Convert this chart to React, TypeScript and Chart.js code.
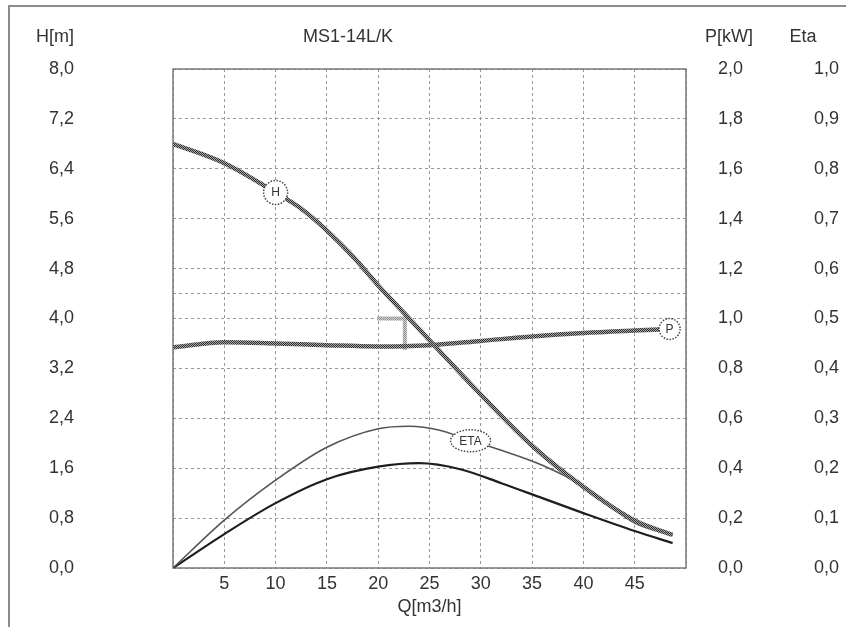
import React, { useEffect, useRef } from 'react';
import { Chart, registerables } from 'chart.js';

Chart.register(...registerables);

// ---- texts ----
const chartTitle = 'MS1-14L/K';
const xTitle = 'Q[m3/h]';
const hTitle = 'H[m]';
const pTitle = 'P[kW]';
const etaTitle = 'Eta';

// ---- axes ----
const qMin = 0;
const qMax = 50;
const qStep = 5;
const hMax = 8;
const hStep = 0.8;
const pMax = 2;
const pStep = 0.2;
const etaMax = 1;
const etaStep = 0.1;
const extraHGrid = [4.4];

// ---- head curve H [m] ----
const qHead = [0, 5, 10, 12.5, 15, 17.5, 20, 22.5, 25, 30, 35, 40, 45, 48.7];
const headH = [6.8, 6.49, 6.02, 5.76, 5.41, 5.0, 4.53, 4.09, 3.65, 2.78, 1.96, 1.3, 0.76, 0.53];

// ---- power curve P [kW] ----
const qPower = [0, 5, 10, 15, 20, 25, 30, 35, 40, 45, 48.4];
const powerKW = [0.885, 0.905, 0.9, 0.893, 0.888, 0.893, 0.91, 0.928, 0.942, 0.952, 0.958];

// ---- efficiency curve ETA ----
const qEta = [0, 5, 10, 15, 20, 23, 26, 29, 32, 36, 40, 45, 48.7];
const etaPump = [0, 0.096, 0.176, 0.242, 0.279, 0.284, 0.276, 0.255, 0.236, 0.206, 0.164, 0.09, 0.065];

// ---- overall efficiency curve ----
const qEtaTotal = [0, 5, 10, 15, 20, 24, 28, 32, 36, 40, 45, 48.7];
const etaTotal = [0, 0.068, 0.13, 0.178, 0.203, 0.21, 0.198, 0.17, 0.14, 0.11, 0.074, 0.05];

// ---- duty point bracket (H units) ----
const qDuty = [19.9, 22.6, 22.6];
const hDuty = [4.0, 4.0, 3.5];

// ---- curve labels: dataset index, point index ----
const curveLabels = [
  { text: 'H', dataset: 0, point: 2, rx: 12, ry: 12 },
  { text: 'P', dataset: 1, point: 10, rx: 10.5, ry: 10.5 },
  { text: 'ETA', dataset: 2, point: 7, rx: 20, ry: 11 },
];

const FONT = "'Liberation Sans', Arial, sans-serif";
const TEXT = '#333';
const FS = 18;

const fmt = (v: number) => v.toFixed(1).replace('.', ',');
const pts = (xs: number[], ys: number[]) => xs.map((x, i) => ({ x, y: ys[i] }));

function makeHatch(ctx: CanvasRenderingContext2D, dark: string, light: string) {
  const c = document.createElement('canvas');
  c.width = 2;
  c.height = 2;
  const g = c.getContext('2d')!;
  g.fillStyle = light;
  g.fillRect(0, 0, 2, 2);
  g.fillStyle = dark;
  g.fillRect(0, 0, 1, 1);
  g.fillRect(1, 1, 1, 1);
  return ctx.createPattern(c, 'repeat')!;
}

const framePlugin = {
  id: 'frame',
  beforeDraw(chart: any) {
    const { ctx, width, height } = chart;
    ctx.save();
    ctx.fillStyle = '#fff';
    ctx.fillRect(0, 0, width, height);
    ctx.strokeStyle = '#8c8c8c';
    ctx.lineWidth = 2;
    ctx.beginPath();
    ctx.moveTo(9, height);
    ctx.lineTo(9, 6);
    ctx.lineTo(width, 6);
    ctx.stroke();
    // headings
    ctx.fillStyle = TEXT;
    ctx.font = `${FS}px ${FONT}`;
    ctx.textAlign = 'center';
    ctx.textBaseline = 'middle';
    const heads = [
      { t: hTitle, x: 55 },
      { t: chartTitle, x: 348 },
      { t: pTitle, x: 729 },
      { t: etaTitle, x: 803 },
    ];
    heads.forEach((h) => ctx.fillText(h.t, h.x, 37));
    ctx.restore();
  },
  beforeDatasetsDraw(chart: any) {
    const { ctx, chartArea: a } = chart;
    ctx.save();
    ctx.strokeStyle = '#7a7a7a';
    ctx.lineWidth = 1.5;
    ctx.strokeRect(a.left, a.top, a.right - a.left, a.bottom - a.top);
    ctx.restore();
  },
  afterDatasetsDraw(chart: any) {
    const { ctx } = chart;
    ctx.save();
    curveLabels.forEach((l) => {
      const el = chart.getDatasetMeta(l.dataset).data[l.point];
      if (!el) return;
      const { x, y } = el;
      ctx.beginPath();
      ctx.ellipse(x, y, l.rx, l.ry, 0, 0, Math.PI * 2);
      ctx.fillStyle = '#fff';
      ctx.fill();
      ctx.setLineDash([1.5, 1.5]);
      ctx.lineWidth = 1.5;
      ctx.strokeStyle = '#444';
      ctx.stroke();
      ctx.setLineDash([]);
      ctx.fillStyle = TEXT;
      ctx.font = `12px ${FONT}`;
      ctx.textAlign = 'center';
      ctx.textBaseline = 'middle';
      ctx.fillText(l.text, x, y + 0.5);
    });
    ctx.restore();
  },
};

export default function App() {
  const ref = useRef<HTMLCanvasElement>(null);

  useEffect(() => {
    const canvas = ref.current!;
    const ctx = canvas.getContext('2d')!;
    const hatch = makeHatch(ctx, '#2e2e2e', '#a8a8a8');
    const lightHatch = makeHatch(ctx, '#8a8a8a', '#d8d8d8');

    const tickFont = { family: FONT, size: FS };
    const base = {
      pointRadius: 0,
      cubicInterpolationMode: 'monotone',
    };

    const chart = new Chart(canvas, {
      type: 'line',
      data: {
        datasets: [
          {
            ...base,
            label: 'H',
            data: pts(qHead, headH),
            yAxisID: 'y',
            borderColor: hatch,
            borderWidth: 4.5,
            order: 1,
          },
          {
            ...base,
            label: 'P',
            data: pts(qPower, powerKW),
            yAxisID: 'p',
            borderColor: hatch,
            borderWidth: 4.5,
            order: 2,
          },
          {
            ...base,
            label: 'ETA',
            data: pts(qEta, etaPump),
            yAxisID: 'eta',
            borderColor: '#555',
            borderWidth: 1.6,
            order: 3,
          },
          {
            ...base,
            label: 'Eta total',
            data: pts(qEtaTotal, etaTotal),
            yAxisID: 'eta',
            borderColor: '#1e1e1e',
            borderWidth: 2.2,
            order: 4,
          },
          {
            label: 'Duty point',
            data: pts(qDuty, hDuty),
            yAxisID: 'y',
            borderColor: lightHatch,
            borderWidth: 4,
            pointRadius: 0,
            tension: 0,
            order: 5,
          },
        ],
      },
      options: {
        responsive: false,
        animation: false,
        events: [],
        layout: { padding: { top: 69, left: 49, right: 7, bottom: 0 } },
        plugins: {
          legend: { display: false },
          tooltip: { enabled: false },
          title: { display: false },
        },
        scales: {
          x: {
            type: 'linear',
            min: qMin,
            max: qMax,
            ticks: {
              stepSize: qStep,
              autoSkip: false,
              maxRotation: 0,
              padding: 5,
              color: TEXT,
              font: tickFont,
              callback: (v: any) => (v === qMin || v === qMax ? '' : String(v)),
            },
            grid: { color: '#9a9a9a', lineWidth: 1, drawTicks: false },
            border: { display: false, dash: [3, 3] },
            title: {
              display: true,
              text: xTitle,
              color: TEXT,
              font: { family: FONT, size: FS },
              padding: { top: 0, bottom: 9 },
            },
            afterFit: (s: any) => {
              s.height = 59;
            },
          },
          y: {
            type: 'linear',
            position: 'left',
            min: 0,
            max: hMax,
            ticks: {
              stepSize: hStep,
              autoSkip: false,
              padding: 0,
              crossAlign: 'far',
              color: TEXT,
              font: tickFont,
              callback: (v: any) =>
                extraHGrid.some((e) => Math.abs(e - v) < 1e-6) ? '' : fmt(v),
            },
            afterBuildTicks: (s: any) => {
              extraHGrid.forEach((e) => s.ticks.push({ value: e }));
              s.ticks.sort((a: any, b: any) => a.value - b.value);
            },
            grid: { color: '#9a9a9a', lineWidth: 1, drawTicks: false },
            border: { display: false, dash: [3, 3] },
            afterFit: (s: any) => {
              s.width = 124;
            },
          },
          p: {
            type: 'linear',
            position: 'right',
            weight: 1,
            min: 0,
            max: pMax,
            ticks: {
              stepSize: pStep,
              autoSkip: false,
              padding: 0,
              crossAlign: 'far',
              color: TEXT,
              font: tickFont,
              callback: (v: any) => fmt(v),
            },
            grid: { display: false, drawTicks: false },
            border: { display: false },
            afterFit: (s: any) => {
              s.width = 57;
            },
          },
          eta: {
            type: 'linear',
            position: 'right',
            weight: 2,
            min: 0,
            max: etaMax,
            ticks: {
              stepSize: etaStep,
              autoSkip: false,
              padding: 0,
              crossAlign: 'far',
              color: TEXT,
              font: tickFont,
              callback: (v: any) => fmt(v),
            },
            grid: { display: false, drawTicks: false },
            border: { display: false },
            afterFit: (s: any) => {
              s.width = 96;
            },
          },
        },
      } as any,
      plugins: [framePlugin],
    });

    return () => chart.destroy();
  }, []);

  return (
    <div style={{ position: 'absolute', left: 0, top: 0, width: 846, height: 627, background: '#fff' }}>
      <canvas ref={ref} width={846} height={627} style={{ display: 'block' }} />
    </div>
  );
}
